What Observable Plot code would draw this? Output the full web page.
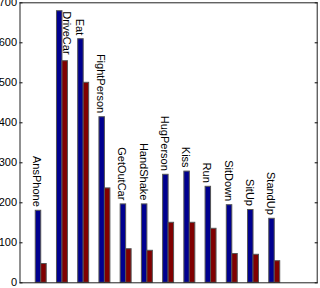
<!DOCTYPE html>
<html><head><meta charset="utf-8">
<script src="https://cdn.jsdelivr.net/npm/d3@7"></script>
<script src="https://cdn.jsdelivr.net/npm/@observablehq/plot@0.6"></script>
<style>body{margin:0;background:#fff}</style>
</head><body><div id="chart"></div>
<script>
const categories = ["AnsPhone","DriveCar","Eat","FightPerson","GetOutCar","HandShake","HugPerson","Kiss","Run","SitDown","SitUp","StandUp"];
const seriesBlue = [180, 679, 609, 414, 196, 196, 270, 278, 240, 194, 182, 160];
const seriesRed  = [47, 554, 500, 236, 84, 80, 150, 150, 135, 72, 70, 54];
const yTicks = [0, 100, 200, 300, 400, 500, 600, 700];

const rows = categories.map((c, i) => ({cat: c, pos: i + 1, blue: seriesBlue[i], red: seriesRed[i]}));
const w = 0.258;

const chart = Plot.plot({
  width: 320, height: 288,
  marginLeft: 19.5, marginRight: 3.3, marginTop: 2.3, marginBottom: 5.7,
  style: {fontFamily: "'Liberation Sans', Arial, sans-serif", fontSize: "11px", background: "white", color: "black"},
  x: {type: "linear", domain: [0, 14], axis: null},
  y: {domain: [0, 700], axis: null},
  marks: [
    Plot.rect(rows, {x1: d => d.pos - w, x2: d => d.pos, y1: 0, y2: "blue", fill: "#00008f", stroke: "#555", strokeWidth: 1}),
    Plot.rect(rows, {x1: d => d.pos, x2: d => d.pos + w, y1: 0, y2: "red", fill: "#800000", stroke: "#555", strokeWidth: 1}),
    Plot.text(rows.filter(d => d.cat !== "DriveCar"), {x: d => d.pos - w / 2, y: "blue", text: "cat", rotate: 90, textAnchor: "end", dy: -4, dx: -1.5, fontSize: 11, fill: "black"}),
    Plot.text(rows.filter(d => d.cat === "DriveCar"), {x: d => d.pos + w / 2, y: "blue", text: "cat", rotate: 90, textAnchor: "start", dy: 0, dx: 1.5, fontSize: 11, fill: "black"}),
    Plot.axisY(yTicks, {anchor: "left", tickSize: -3, tickPadding: 6, label: null, fontSize: 11}),
    Plot.axisY(yTicks, {anchor: "right", tickSize: -3, tickFormat: () => "", label: null}),
    Plot.frame({stroke: "#222"})
  ]
});
document.getElementById("chart").appendChild(chart);
</script>
</body></html>
